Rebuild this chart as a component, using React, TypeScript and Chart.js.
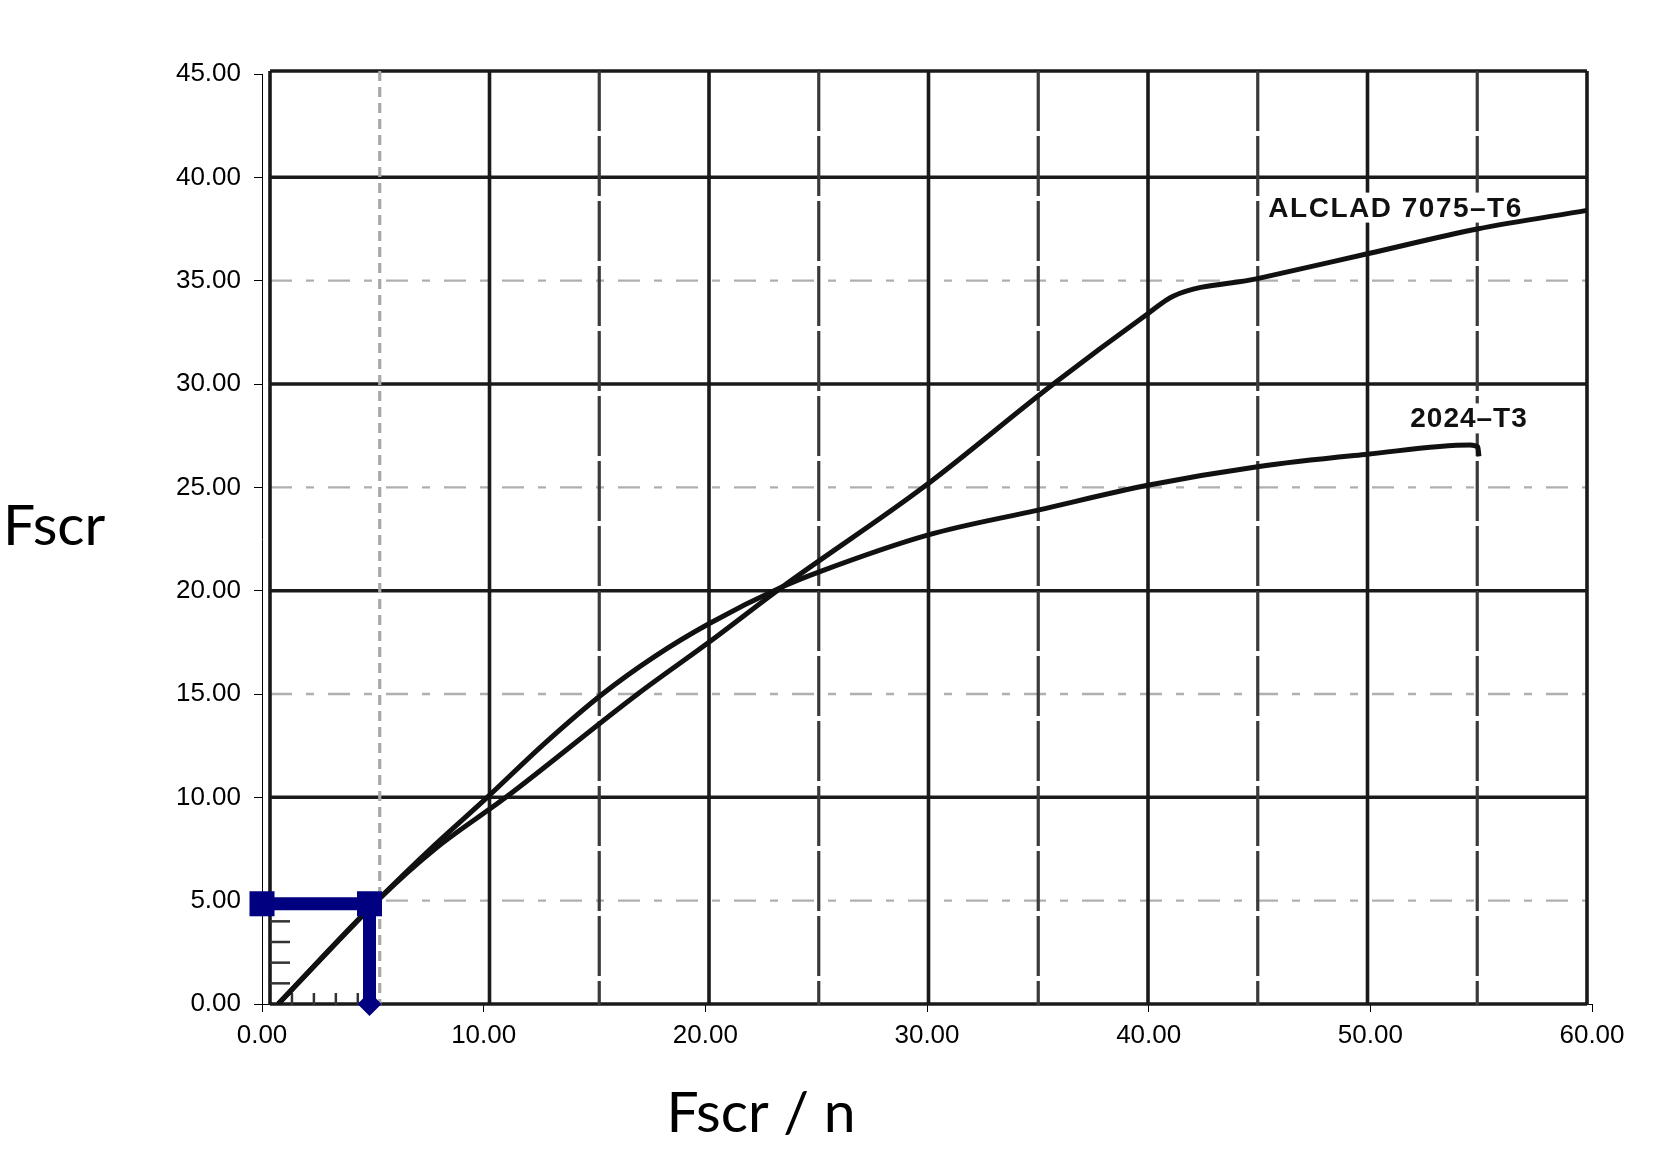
import React, { useEffect, useRef } from "react";
import { Chart, registerables } from "chart.js";

Chart.register(...registerables);

// ---- data ----
const alclad7075X = [0.73, 5.2, 7.8, 11.0, 16.95, 20.16, 23.5, 29.83, 35.7, 39.96, 41.1, 44.91, 49.87, 54.82, 59.77];
const alclad7075Y = [0.0, 5.0, 7.5, 10.0, 15.0, 17.5, 20.2, 25.0, 30.0, 33.4, 34.25, 35.1, 36.3, 37.5, 38.4];

const t3X = [0.73, 5.2, 7.8, 10.16, 12.74, 15.36, 17.69, 20.16, 23.5, 25.11, 30.06, 35.01, 39.96, 44.91, 49.87, 54.5, 54.85, 54.9];
const t3Y = [0.0, 5.0, 7.7, 10.0, 12.6, 15.0, 16.8, 18.4, 20.2, 20.9, 22.7, 23.9, 25.1, 26.0, 26.6, 27.05, 26.95, 26.5];

const guideHX = [0, 4.85];
const guideHY = [4.85, 4.85];
const guideVX = [4.85, 4.85];
const guideVY = [4.85, 0];

const xTickValues = [0, 10, 20, 30, 40, 50, 60];
const yTickValues = [0, 5, 10, 15, 20, 25, 30, 35, 40, 45];

const curveLabels = ["ALCLAD 7075–T6", "2024–T3"];
const xTitle = "Fscr / n";
const yTitle = "Fscr";

// scanned background grid: 12 columns, rows every 5 units
const scanColumns = [0, 1, 2, 3, 4, 5, 6, 7, 8, 9, 10, 11, 12];
const scanRows = [0, 5, 10, 15, 20, 25, 30, 35, 40, 45];
const scanMinorCols = [0.2, 0.4, 0.6, 0.8];
const scanMinorRows = [1, 2, 3, 4];

const pts = (xs: number[], ys: number[]) => xs.map((x, i) => ({ x, y: ys[i] }));

const NAVY = "#000080";

const scanGridPlugin = {
  id: "scanGrid",
  beforeDatasetsDraw(chart: any) {
    const { ctx, scales } = chart;
    const xs = scales.xs;
    const y = scales.y;
    const left = xs.getPixelForValue(scanColumns[0]);
    const right = xs.getPixelForValue(scanColumns[scanColumns.length - 1]);
    const top = y.getPixelForValue(45) - 3;
    const bottom = y.getPixelForValue(0) + 1;
    ctx.save();
    ctx.filter = "blur(0.7px)";
    ctx.lineCap = "butt";
    // horizontal rows
    scanRows.forEach((v) => {
      const py = y.getPixelForValue(v) - (v === 45 ? 3 : 0);
      const major = v % 10 === 0 || v === 45;
      ctx.beginPath();
      ctx.strokeStyle = major ? "#1a1a1a" : "#b0b0b0";
      ctx.lineWidth = major ? 3.5 : 2.4;
      ctx.setLineDash(major ? [] : [22, 14, 8, 14]);
      ctx.moveTo(left, py);
      ctx.lineTo(right, py);
      ctx.stroke();
    });
    // vertical columns
    scanColumns.forEach((k) => {
      const px = xs.getPixelForValue(k);
      const major = k % 2 === 0;
      ctx.beginPath();
      ctx.strokeStyle = major ? "#1a1a1a" : k === 1 ? "#a8a8a8" : "#3a3a3a";
      ctx.lineWidth = major ? 3.6 : 3.2;
      ctx.setLineDash(major ? [] : k === 1 ? [10, 6] : [60, 5]);
      ctx.moveTo(px, top);
      ctx.lineTo(px, bottom);
      ctx.stroke();
    });
    // small scan ticks near the origin
    ctx.setLineDash([]);
    ctx.strokeStyle = "#333";
    ctx.lineWidth = 2.5;
    scanMinorRows.forEach((v) => {
      const py = y.getPixelForValue(v);
      ctx.beginPath();
      ctx.moveTo(left, py);
      ctx.lineTo(left + 20, py);
      ctx.stroke();
    });
    scanMinorCols.forEach((k) => {
      const px = xs.getPixelForValue(k);
      ctx.beginPath();
      ctx.moveTo(px, bottom);
      ctx.lineTo(px, bottom - 12);
      ctx.stroke();
    });
    ctx.restore();

    // curve labels with white knock-out background
    const anchors = [
      { x: 45.4, y: 38.1, spacing: 1.5 },
      { x: 51.8, y: 27.9, spacing: 1 },
    ];
    const xScale = scales.x;
    ctx.save();
    ctx.font = 'bold 28px "Liberation Sans"';
    curveLabels.forEach((t, i) => {
      const a = anchors[i];
      const px = xScale.getPixelForValue(a.x);
      const py = y.getPixelForValue(a.y);
      (ctx as any).letterSpacing = a.spacing + "px";
      const w = ctx.measureText(t).width;
      ctx.fillStyle = "#fff";
      ctx.fillRect(px - 4, py - 24, w + 8, 30);
      ctx.filter = "blur(0.7px)";
      ctx.fillStyle = "#111";
      ctx.textAlign = "left";
      ctx.textBaseline = "alphabetic";
      ctx.fillText(t, px, py);
      ctx.filter = "none";
    });
    ctx.restore();
  },
};

const titlePlugin = {
  id: "axisTitles",
  afterDraw(chart: any) {
    const { ctx } = chart;
    ctx.save();
    ctx.fillStyle = "#000";
    ctx.font = '57px "Lato"';
    ctx.textBaseline = "alphabetic";
    ctx.textAlign = "left";
    ctx.fillText(yTitle, 3, 545);
    ctx.textAlign = "center";
    ctx.fillText(xTitle, 761, 1132);
    ctx.restore();
  },
};

export default function App() {
  const canvasRef = useRef<HTMLCanvasElement | null>(null);

  useEffect(() => {
    if (!canvasRef.current) return;
    const chart = new Chart(canvasRef.current, {
      type: "line",
      data: {
        datasets: [
          {
            label: "guideH",
            data: pts(guideHX, guideHY),
            borderColor: NAVY,
            backgroundColor: NAVY,
            borderWidth: 13,
            pointStyle: "rect",
            pointRadius: 17.7,
            pointBorderWidth: 0,
            pointBackgroundColor: NAVY,
            tension: 0,
            clip: false,
          } as any,
          {
            label: "guideV",
            data: pts(guideVX, guideVY),
            borderColor: NAVY,
            backgroundColor: NAVY,
            borderWidth: 13,
            pointStyle: "rectRot",
            pointRadius: 12,
            pointBorderWidth: 0,
            pointBackgroundColor: NAVY,
            tension: 0,
            clip: false,
          } as any,
          {
            label: "ALCLAD 7075-T6",
            data: pts(alclad7075X, alclad7075Y),
            borderColor: "#111",
            borderWidth: 5,
            pointRadius: 0,
            cubicInterpolationMode: "monotone",
          },
          {
            label: "2024-T3",
            data: pts(t3X, t3Y),
            borderColor: "#111",
            borderWidth: 5,
            pointRadius: 0,
            cubicInterpolationMode: "monotone",
          },
        ],
      },
      options: {
        responsive: false,
        animation: false,
        events: [],
        layout: { padding: { left: 0, right: 84, top: 74, bottom: 0 } },
        plugins: {
          legend: { display: false },
          tooltip: { enabled: false },
          title: { display: false },
        },
        scales: {
          x: {
            type: "linear",
            position: "bottom",
            min: 0,
            max: 60,
            afterFit: (s: any) => {
              s.height = 149;
            },
            afterBuildTicks: (s: any) => {
              s.ticks = xTickValues.map((v) => ({ value: v }));
            },
            ticks: {
              callback: (v: any) => Number(v).toFixed(2),
              font: { family: '"Liberation Sans", Arial', size: 26 },
              color: "#000",
              padding: 8,
              maxRotation: 0,
              autoSkip: false,
            },
            grid: { drawOnChartArea: false, drawTicks: true, tickLength: 8, color: "#000", lineWidth: 1 },
            border: { display: true, color: "#000", width: 1 },
          },
          xs: {
            type: "linear",
            axis: "x",
            position: "bottom",
            display: false,
            min: -0.0729,
            max: 12.0456,
          },
          y: {
            type: "linear",
            position: "left",
            min: 0,
            max: 45,
            afterFit: (s: any) => {
              s.width = 262;
            },
            afterBuildTicks: (s: any) => {
              s.ticks = yTickValues.map((v) => ({ value: v }));
            },
            ticks: {
              callback: (v: any) => Number(v).toFixed(2),
              font: { family: '"Liberation Sans", Arial', size: 26 },
              color: "#000",
              padding: 13,
            },
            grid: { drawOnChartArea: false, drawTicks: true, tickLength: 8, color: "#000", lineWidth: 1 },
            border: { display: true, color: "#000", width: 1 },
          },
        } as any,
      },
      plugins: [scanGridPlugin, titlePlugin],
    });
    return () => chart.destroy();
  }, []);

  return (
    <div style={{ position: "absolute", left: 0, top: 0, width: 1676, height: 1153, background: "#fff" }}>
      <canvas ref={canvasRef} width={1676} height={1153} style={{ display: "block" }} />
    </div>
  );
}
